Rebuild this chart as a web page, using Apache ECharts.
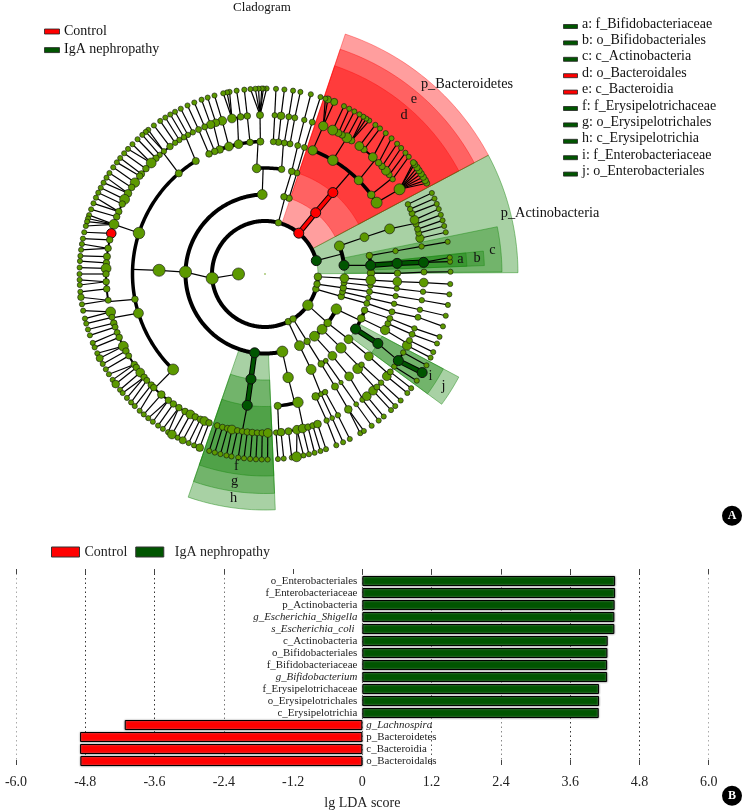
<!DOCTYPE html>
<html><head><meta charset="utf-8">
<style>html,body{margin:0;padding:0;background:#fff}#c{width:743px;height:811px}</style>
<script src="https://cdn.jsdelivr.net/npm/echarts@6/dist/echarts.min.js"></script>
</head><body><div id="c"></div>
<script>
// ---------- LDA bars ----------
const barNames=['o_Enterobacteriales','f_Enterobacteriaceae','p_Actinobacteria','g_Escherichia_Shigella','s_Escherichia_coli ','c_Actinobacteria','o_Bifidobacteriales','f_Bifidobacteriaceae','g_Bifidobacterium','f_Erysipelotrichaceae','o_Erysipelotrichales','c_Erysipelotrichia','g_Lachnospira','p_Bacteroidetes','c_Bacteroidia','o_Bacteroidales'];
const ldaIgan=[4.378,4.378,4.37,4.365,4.365,4.25,4.245,4.24,4.24,4.1,4.1,4.095,null,null,null,null];
const ldaControl=[null,null,null,null,null,null,null,null,null,null,null,null,-4.116,-4.89,-4.89,-4.885];
const italicNames=['g_Escherichia_Shigella','s_Escherichia_coli ','g_Bifidobacterium','g_Lachnospira'];
const ldaTicks=[-6,-4.8,-3.6,-2.4,-1.2,0,1.2,2.4,3.6,4.8,6];

// ---------- cladogram legend ----------
const groupNames=['Control','IgA nephropathy'];
const cladeLegend=[['a: f_Bifidobacteriaceae',1],['b: o_Bifidobacteriales',1],['c: c_Actinobacteria',1],['d: o_Bacteroidales',0],['e: c_Bacteroidia',0],['f: f_Erysipelotrichaceae',1],['g: o_Erysipelotrichales',1],['h: c_Erysipelotrichia',1],['i: f_Enterobacteriaceae',1],['j: o_Enterobacteriales',1]];

// ---------- cladogram tree: radius of each taxonomic level ----------
const levelRadius=[0,26.5,53,79.5,106,132.5,159,185.5];
// level L: [node angle, node abundance, angle where its link meets the next ring, children angles]
const kingdomFans=[[180,11,184.7,[14.6,50.4,75.4,184.7,296,302,324,343.5,349,357]]];
const phylumFans=[[14.6,9.5,14.6,[6.3,20.7]],[50.4,9.5,50.4,[50.4]],[75.4,6,75.4,[72.4,76.2]],[184.7,11,178.6,[92,178.6,262.5,282.6]],[296,6,295.7,[295.7]],[302,6,302,[302]],[324,9.5,322,[308.5,315.9,322,333.8]],[343.5,6,343.6,[343.6]],[349,6,350,[347,350]],[357,7,357,[353.7,357]]];
const classFans=[[6.3,9.5,4.7,[0.5,4.7,10]],[20.7,9,20.3,[20.3]],[50.4,9.5,50.2,[50.2]],[72.4,6,72.5,[72.5]],[76.2,6,75.4,[75.4]],[92,9,91,[81,94.5]],[178.6,11,178,[178]],[262.5,9.5,262.4,[262.4]],[282.6,10,282.6,[282.6]],[295.7,9,295.8,[295.8]],[302,6,302,[302,305]],[308.5,9,309.5,[309.5]],[315.9,9,315.8,[315.8]],[322,7,322,[322]],[333.8,9.5,334,[328.7,335.2,340]],[343.6,6,343.9,[343.9]],[347,5.5,347,[347]],[350,6,350.4,[350.4]],[353.7,5.5,353.7,[353.7]],[357,8,356.7,[356.7]]];
const orderFans=[[0.5,7,0.3,[0.3]],[4.7,9.5,4.6,[4.6]],[10,6,10,[10]],[20.3,8,19.9,[19.9]],[50.2,9.5,50,[32.6,36.7,45,59.2,68.9]],[72.5,5.5,72.7,[72.7]],[75.4,6,75.7,[75.7]],[81,6,82,[79.1,81.6,84.2,86.4]],[94.5,8,93,[92,96.5,101.5,105.8,110,112.3,115]],[178,11,178,[121.5,130.6,162,191,197.2,226.1]],[262.4,9.5,262.3,[262.3]],[282.6,9.5,283,[275.5,284.4]],[295.8,9,295,[292.5,295,297]],[302,6,301.9,[301.9]],[305,4.5,305,[305]],[309.5,8,309.4,[309.4]],[315.8,9.5,315.5,[314.4,316.8]],[322,8,321.6,[321.6]],[328.7,9.5,328.4,[328.4]],[335.2,7,335,[335,338]],[340,6,340.4,[340.4]],[343.9,5.5,343.4,[343.4]],[347,5,347,[347]],[350.4,5.5,350.4,[350.4]],[353.7,5,353.7,[353.7]],[356.7,9,356.7,[356.7]]];
const familyFans=[[0.3,6,0.7,[0.7]],[4.6,9.5,4.2,[4.2]],[10,5,10,[10]],[19.9,9,18.6,[13,14.9,16.4,18.3,19.9,22.4,24.1,26]],[32.6,10,32.2,[32.2]],[36.7,7,37,[36.6,38.6,40.5,42.6]],[45,8,46,[44.4,47.3,51.5,53.6]],[59.2,9.5,59,[57,59,61,62.5,64.8]],[68.9,8.5,68.5,[68.5]],[72.7,5.5,72.7,[72.7]],[75.7,5.5,75.7,[75.7]],[79.1,5.5,79.2,[79.2]],[81.6,5.5,81.4,[81.4]],[84.2,6,84.2,[84.2]],[86.4,5.5,86.5,[86.5]],[92,6.5,91.8,[91.8]],[96.5,6,96.4,[]],[101.5,8,100,[96.4,98.8,102]],[105.8,8,105.6,[105.6]],[110,7,109,[108,110]],[112.3,6,112.3,[112.3]],[115,6,114.7,[114.7]],[121.5,6.5,120,[117,119,120.7,122.6,124.4]],[130.6,6.5,130,[126.7,129.5,131.5]],[162,10.5,161.8,[133.3,135.7,138.5,141,142,144.9,147,149.5,152,153.9,156.9,158.9,161.8,165.2,167.6,170.7,173.7,176]],[191,6,190,[178,180,182.8,185.4,189.5]],[197.2,9,196,[193.8,195.8,198,199.5,201.6,203.5,207,209,211,214.7,216,218.3,220.5,222,224.3]],[226.1,10,226,[225.6,229.3,232.6,234.8,237.2,239.8,242,244,246,247.6,249.4]],[262.3,9.5,261.8,[252.5,254.5,256.4,258,260,261.8,263.6,265.4,267.2,269,271]],[275.5,6.5,275,[274,275.8]],[284.4,9.5,284,[278.5,281.6,283.7,285.7,287.5,289.3]],[292.5,7,292.8,[292.8]],[295,4.5,295,[295]],[297,5,297.3,[297.3]],[301.9,6.5,301.6,[301.6]],[305,4,305,[305]],[309.4,8,308,[307.8,309.8]],[314.4,9,314,[312.8,314.7]],[316.8,5,316.9,[316.9]],[321.6,8,321,[320,322]],[328.4,9.5,327,[324.4,327,330.4]],[335,8.5,334,[333.3,335.3]],[338,5.5,337.7,[337.7]],[340.4,5.5,340,[340]],[343.4,5.5,344.2,[344.2]],[347,5,347,[347]],[350.4,5,350.5,[350.5]],[353.7,5,353.6,[353.6]],[356.7,8,356.9,[356.9]]];
// genus: [genus angle, genus abundance, species angles]
const genusFans=[[0.7,5.5,[0.7]],[4.2,9.5,[3.8,5.1]],[10,5,[10]],[13,7.5,[13]],[14.9,5.5,[15]],[16.4,5.5,[16.8]],[18.3,5.5,[18.6]],[19.9,8,[20.5]],[22.4,5.5,[22.2]],[24.1,5,[24]],[26,5,[25.9]],[32.2,10,[29.3,30.3,31.5,32.7,33.9,35,36.3,36.9]],[36.6,5,[39.2]],[38.6,5.5,[40.8]],[40.5,8,[42.8]],[42.6,6,[44.6]],[44.4,6,[47]],[47.3,8,[49.4]],[51.5,6,[51.7]],[53.6,8,[53.5]],[57,6,[55.8,56.9,58]],[59,9,[59.4]],[61,6,[61.2]],[62.5,6.5,[63]],[64.8,9,[64.8]],[68.5,8.5,[68.1,70.2,71]],[72.7,5.5,[72.6]],[75.7,5,[75.7]],[79.2,5.5,[79]],[81.4,5.5,[81.3]],[84.2,7,[84]],[86.5,5,[86.6]],[91.8,6.5,[89.5,90.5,91,92,93,94.5]],[96.4,6,[96.4]],[98.8,6,[98.8]],[102,8,[101,101.8,103]],[105.6,8,[105.8]],[108,7,[108]],[110,7.5,[110]],[112.3,5.5,[112.4]],[114.7,5.5,[114.7]],[117,5,[117]],[119,5,[119]],[120.7,5,[120.7]],[122.6,5,[122.5]],[124.4,5,[124.4]],[126.7,6,[126.8]],[129.5,5,[129,130]],[131.5,5,[131.4]],[133.3,6,[133.4]],[135.7,9,[135.6,137.6]],[138.5,6,[139.4]],[141,6,[141.3]],[142,6,[143]],[144.9,8.5,[144.9]],[147,6,[147]],[149.5,7,[148.7,150.5]],[152,9,[152.3]],[153.9,6,[154]],[156.9,6,[155.7,157.6]],[158.9,6,[159.6]],[161.8,9,[161.5,162.6,163.6,165]],[165.2,9,[167]],[167.6,6,[169]],[170.7,6,[170.7,172.5]],[173.7,6.5,[174.4]],[176,6,[176]],[178,9,[178]],[180,6,[180]],[182.8,6,[181.8,183.4]],[185.4,6,[185.5]],[189.5,5.5,[187.2,189.4]],[193.8,9,[191.4,193.9]],[195.8,5.5,[195.5]],[198,6,[197.4]],[199.5,5.5,[199.3]],[201.6,5.5,[201.8]],[203.5,6,[203.3]],[207,9,[205.3,207]],[209,6,[209]],[211,5.5,[210.9]],[214.7,6,[212.7,214.8]],[216,6,[216.4]],[218.3,8,[218.6]],[220.5,6,[219.9,221.9]],[222,5.5,[223.8]],[224.3,6,[225.4]],[225.6,6,[227.5]],[229.3,7,[229.2]],[232.6,6,[231,232.8]],[234.8,6,[234.8]],[237.2,6,[236.6,238.5]],[239.8,6,[239.9]],[242,8,[241.9]],[244,6,[243.7]],[246,6,[245.7]],[247.6,8,[247.5]],[249.4,6,[249.4]],[252.5,5.5,[252.5]],[254.5,5.5,[254.3]],[256.4,6,[256.1]],[258,8,[258]],[260,5.5,[259.6]],[261.8,5.5,[261.7]],[263.6,6,[263.5]],[265.4,6,[265.4]],[267.2,5.5,[267.2]],[269,6,[269]],[271,8,[270.8]],[274,5,[274]],[275.8,7,[275.8]],[278.5,6.5,[278.3]],[281.6,8,[279.8,282]],[283.7,8,[283.7]],[285.7,6,[285.5]],[287.5,5.5,[287.4]],[289.3,7,[289.2]],[292.8,5,[292.6]],[295,4.5,[294.9]],[297.3,5,[297.2]],[301.6,7,[300.9,302.2]],[305,4.5,[305.1]],[307.8,5,[307.8]],[309.8,8,[309.8]],[312.8,8,[312.8]],[314.7,5.5,[314.6]],[316.9,5,[317]],[320,8,[320.1]],[322,5.5,[322]],[324.4,5,[324.9]],[327,9.5,[327.9]],[330.4,5,[330.5]],[333.3,8.5,[333.2]],[335.3,5.5,[335.1]],[337.7,5.5,[338]],[340,5,[340.2]],[344.2,5.5,[343.6]],[347,5,[347]],[350.5,5,[350.4]],[353.6,5,[353.7]],[356.9,8,[356.9]]];
const bigSpecies=[[29.3,5.5],[30.3,6],[31.5,6],[32.7,6],[33.9,6],[35,6],[36.3,6],[36.9,5.5],[68.1,6.5],[70.2,6.5],[187.2,6],[207,6.5],[216.4,7],[239.9,8],[243.7,6.5],[249.4,7],[279.8,9],[327.9,9.5]];

// enriched nodes [level, angle]
const controlNodes=[[2,50.4],[3,50.4],[4,50.2],[6,165.2]];
const iganNodes=[[2,14.6],[3,6.3],[4,4.7],[5,4.6],[6,4.2],[3,262.5],[4,262.4],[5,262.3],[4,328.7],[5,328.4],[6,327],[7,327.9]];
// enriched branches [group, level, angle, angle on next level]
const enrichedBranches=[[0,2,50.4,50.4],[0,3,50.4,50.2],[1,4,4.7,4.6],[1,5,4.6,4.2],[1,3,262.5,262.4],[1,4,262.4,262.3],[1,4,328.7,328.4],[1,6,327,327.9]];
// highlighted clades [group, inner radius, outer radius, start angle, end angle]
const cladeSectors=[[0,53,253,28,71.5],[0,79.5,237,28,71.5],[0,106,219.5,28,71.5],[1,53,253,0.3,28],[1,79.5,237,0.5,11.5],[1,106,219.5,2.2,6],[1,132.5,202,2.2,6],[1,79.5,236,251,272.5],[1,106,219.5,251,272.5],[1,132.5,202,251,272.5],[1,106,219.5,323.6,332],[1,132.5,202,323.6,332]];
const sectorLabels=[['p_Bacteroidetes',467,84],['e',414,99],['d',404,115],['p_Actinobacteria',550,213],['a',460.5,259.5],['b',477,258],['c',492.5,250.5],['f',236.5,466],['g',234.5,481],['h',233.5,498],['i',430.5,376],['j',443.5,386]];

// ---------- build ----------
const FONT='"Liberation Serif",serif';
const COLORS={node:'#5c9900',control:'#ff0000',igan:'#005500'};
const sectorFill=['rgba(255,0,0,0.38)','rgba(25,135,15,0.38)'];
const sectorEdge=['rgba(255,0,0,0.35)','rgba(25,135,15,0.45)'];
const arcWidth={2:4,3:4,4:3.5,5:3.5,6:2};
const tiers=[[1,kingdomFans],[2,phylumFans],[3,classFans],[4,orderFans],[5,familyFans]];
const nodes=[],links=[],arcs=[];
const isIn=(list,l,a)=>list.some(n=>n[0]===l&&n[1]===a);
function pushNode(l,a,s){
  const ctrl=isIn(controlNodes,l,a),ig=isIn(iganNodes,l,a);
  nodes.push({value:[levelRadius[l],a,(ctrl||ig)?s+0.5:s*1.1],itemStyle:{color:ctrl?COLORS.control:ig?COLORS.igan:COLORS.node,borderWidth:(ctrl||ig)?1:0.6}});
}
tiers.forEach(([l,fans])=>fans.forEach(([a,s,join,kids])=>{
  pushNode(l,a,s);
  links.push([levelRadius[l],a,levelRadius[l+1],join,1.2]);
  if(kids.length>1) arcs.push([levelRadius[l+1],Math.min(...kids),Math.max(...kids),arcWidth[l+1]]);
}));
genusFans.forEach(([a,s,kids])=>{
  pushNode(6,a,s);
  kids.forEach(k=>{
    links.push([levelRadius[6],a,levelRadius[7],k,1.2]);
    const big=bigSpecies.find(b=>b[0]===k);
    pushNode(7,k,big?big[1]:4.7);
  });
});
const rootItem=[0,0,1.5];
function sectorItem(params,api){
  const s=cladeSectors[api.value(2)],pts=[];
  const n=Math.ceil(s[4]-s[3]);
  for(let i=0;i<=n;i++)pts.push(api.coord([s[2],s[3]+(s[4]-s[3])*i/n]));
  for(let i=n;i>=0;i--)pts.push(api.coord([s[1],s[3]+(s[4]-s[3])*i/n]));
  return {type:'polygon',shape:{points:pts},style:{fill:sectorFill[s[0]],stroke:sectorEdge[s[0]],lineWidth:1}};
}
function linkItem(params,api){
  const m=links[api.value(2)],p=api.coord([m[0],m[1]]),q=api.coord([m[2],m[3]]);
  return {type:'line',shape:{x1:p[0],y1:p[1],x2:q[0],y2:q[1]},style:{stroke:'#000',lineWidth:m[4]}};
}
function arcItem(params,api){
  const m=arcs[api.value(2)],pts=[];
  for(let a=m[1];a<m[2];a+=1)pts.push(api.coord([m[0],a]));
  pts.push(api.coord([m[0],m[2]]));
  return {type:'polyline',shape:{points:pts},style:{stroke:'#000',lineWidth:m[3],fill:'none'}};
}
function branchItem(params,api){
  const m=enrichedBranches[api.value(2)];
  const p=api.coord([levelRadius[m[1]],m[2]]),q=api.coord([levelRadius[m[1]+1],m[3]]);
  const shape={x1:p[0],y1:p[1],x2:q[0],y2:q[1]};
  return {type:'group',children:[
    {type:'line',shape,style:{stroke:'#000',lineWidth:5.5}},
    {type:'line',shape,style:{stroke:m[0]?COLORS.igan:COLORS.control,lineWidth:3.5}}]};
}
const tagged=(arr,r,a)=>arr.map((m,i)=>[r(m),a(m),i]);
const txt=(text,x,y,o={})=>({type:'text',x,y,z:20,style:Object.assign({text,x:0,y:0,font:'13px '+FONT,fill:'#111',textAlign:'left',textVerticalAlign:'middle'},o)});
const swatch=(x,y,w,h,c)=>({type:'rect',z:20,shape:{x,y,width:w,height:h},style:{fill:c,stroke:'#222',lineWidth:0.8}});
const graphics=[];
graphics.push(txt('Cladogram',262,8,{textAlign:'center',font:'13px '+FONT}));
groupNames.forEach((n,i)=>{
  graphics.push(swatch(44.5,29+i*18.6,15,5,i?COLORS.igan:COLORS.control));
  graphics.push(txt(n,64,31+i*18.6,{font:'14px '+FONT}));
});
cladeLegend.forEach(([n,g],i)=>{
  const y=24+i*16.4;
  graphics.push(swatch(563.5,y+0.5,14,4,g?COLORS.igan:COLORS.control));
  graphics.push(txt(n,582,y,{font:'14px '+FONT}));
});
sectorLabels.forEach(([n,x,y])=>graphics.push(txt(n,x,y,{textAlign:'center',font:'14.3px '+FONT})));
[['A',515.7],['B',795.7]].forEach(([n,y])=>{
  graphics.push({type:'circle',z:20,shape:{cx:732,cy:y,r:10},style:{fill:'#000'}});
  graphics.push(txt(n,732,y,{textAlign:'center',fill:'#fff',font:'bold 12px '+FONT}));
});
const barItem=(v,i,pos)=>{
  const n=barNames[i];
  return {value:v,label:{show:v!==null,position:pos,distance:pos==='left'?5:4,formatter:n,fontFamily:FONT,fontSize:10.9,color:'#222',fontStyle:italicNames.includes(n)?'italic':'normal'}};
};
const barStyle=c=>({color:c,borderColor:'#000',borderWidth:1,shadowColor:'#888',shadowBlur:2});
const xCommon={type:'value',min:ldaTicks[0],max:ldaTicks[10],interval:1.2};
const option={
  animation:false,backgroundColor:'#fff',textStyle:{fontFamily:FONT},
  polar:{center:[265,274],radius:270},
  angleAxis:{type:'value',min:0,max:360,startAngle:0,clockwise:false,show:false},
  radiusAxis:{type:'value',min:0,max:270,show:false},
  grid:[{left:16,right:34.3,top:569,height:204},{left:16,right:34.3,top:575,height:192}],
  xAxis:[Object.assign({},xCommon,{gridIndex:0,position:'bottom',name:'lg LDA score',nameLocation:'middle',nameGap:31,
      nameTextStyle:{fontFamily:FONT,fontSize:14,color:'#222'},
      axisLine:{show:false},axisTick:{show:true,inside:true,length:5,lineStyle:{color:'#444'}},
      axisLabel:{fontFamily:FONT,fontSize:14,color:'#222',margin:10,formatter:v=>Math.abs(v)<1e-6?'0':v.toFixed(1)},
      splitLine:{show:true,lineStyle:{type:[1.5,3],width:1,color:['#aaa','#333','#333','#777','transparent','#555','#555','#888','#333','#333','#aaa']}}}),
    Object.assign({},xCommon,{gridIndex:0,position:'top',axisLine:{show:false},axisLabel:{show:false},
      axisTick:{show:true,inside:true,length:5,lineStyle:{color:'#444'}},splitLine:{show:false}}),
    Object.assign({},xCommon,{gridIndex:1,show:false,splitLine:{show:false}})],
  yAxis:[{type:'value',gridIndex:0,min:0,max:17,show:false,splitLine:{show:false}},
    {type:'category',gridIndex:1,data:barNames,inverse:true,axisLine:{show:false},axisTick:{show:false},axisLabel:{show:false},splitLine:{show:false}}],
  legend:{left:46,top:540,icon:'rect',itemWidth:28,itemHeight:10,itemGap:8,data:[{name:'Control'},{name:'IgA nephropathy',textStyle:{padding:[0,0,0,6]}}],
    textStyle:{fontFamily:FONT,fontSize:14,color:'#222'},itemStyle:{borderColor:'#333',borderWidth:1}},
  graphic:{elements:graphics},
  series:[
    {type:'custom',coordinateSystem:'polar',z:1,silent:true,renderItem:sectorItem,encode:{radius:0,angle:1},data:tagged(cladeSectors,m=>m[1],m=>m[3])},
    {type:'custom',coordinateSystem:'polar',z:2,silent:true,renderItem:linkItem,encode:{radius:0,angle:1},data:tagged(links,m=>m[0],m=>m[1])},
    {type:'custom',coordinateSystem:'polar',z:3,silent:true,renderItem:arcItem,encode:{radius:0,angle:1},data:tagged(arcs,m=>m[0],m=>m[1])},
    {type:'custom',coordinateSystem:'polar',z:4,silent:true,renderItem:branchItem,encode:{radius:0,angle:1},data:tagged(enrichedBranches,m=>levelRadius[m[1]],m=>m[2])},
    {type:'scatter',coordinateSystem:'polar',z:5,silent:true,symbol:'circle',symbolSize:v=>v[2],itemStyle:{borderColor:'#111',borderWidth:0.6,opacity:1},data:nodes.concat([{value:rootItem,itemStyle:{color:COLORS.node,borderWidth:0}}])},
    {name:'Control',type:'bar',xAxisIndex:2,yAxisIndex:1,barWidth:10,barGap:'-100%',itemStyle:barStyle(COLORS.control),data:ldaControl.map((v,i)=>barItem(v,i,'right'))},
    {name:'IgA nephropathy',type:'bar',xAxisIndex:2,yAxisIndex:1,barWidth:10,barGap:'-100%',itemStyle:barStyle(COLORS.igan),data:ldaIgan.map((v,i)=>barItem(v,i,'left'))}
  ]
};
echarts.init(document.getElementById('c'),null,{renderer:'canvas'}).setOption(option);
</script></body></html>
